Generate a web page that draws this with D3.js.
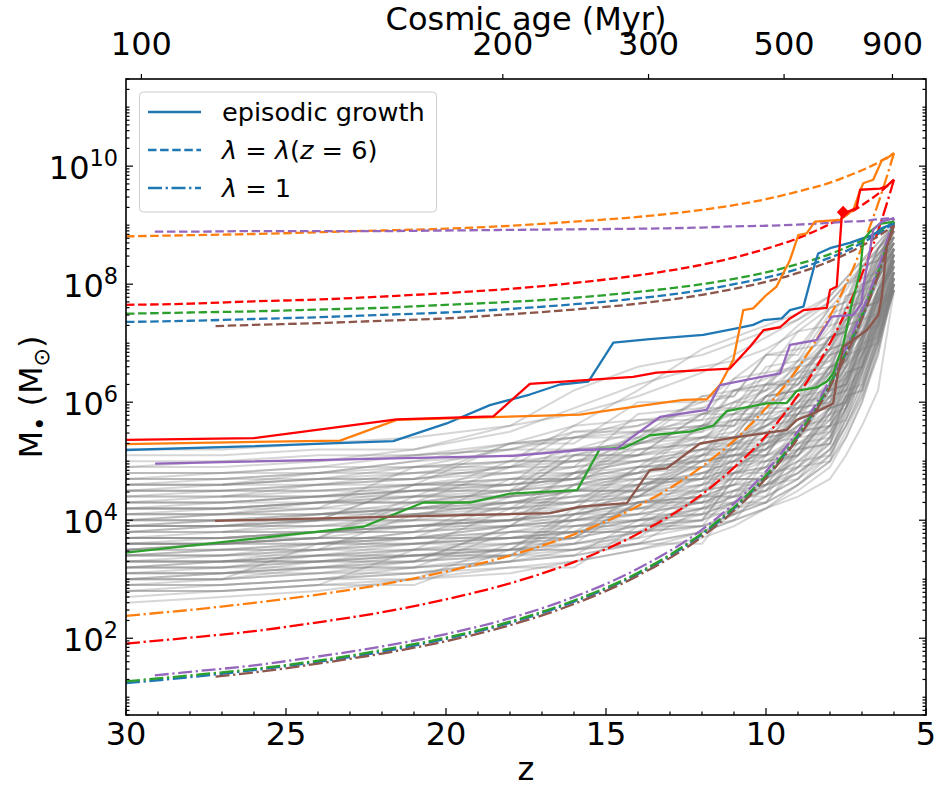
<!DOCTYPE html>
<html><head><meta charset="utf-8">
<script src="https://cdn.jsdelivr.net/npm/d3@7"></script>
<style>body{margin:0;background:#fff} text{font-family:"DejaVu Sans",sans-serif;fill:#000}</style>
</head><body><svg id="c" width="936" height="787"></svg>
<script>
// ---------------- DATA (log10 of M in Msun) ----------------
const zTicks = [30,25,20,15,10,5];
const ageTicks = [100,200,300,500,900];          // Myr, top axis
const yTickExps = [2,4,6,8,10];

const zGrid = [30,27,24,21,18,16,14,12,11,10,9,8,7.5,7,6.5,6];
const grayLines = [
[5.2,5.2,5.3,5.4,5.6,5.8,6.1,6.5,6.8,7.1,7.4,7.8,8.1,8.4,8.7,9.0],
[5.1,5.1,5.2,5.2,5.5,5.9,6.3,6.6,6.7,6.9,7.2,7.6,7.9,8.3,8.6,8.9],
[4.9,5.0,5.0,5.1,5.3,5.4,5.6,6.0,6.4,6.8,7.3,7.7,8.0,8.2,8.5,8.8],
[4.8,4.8,4.9,5.1,5.2,5.4,5.7,5.8,6.0,6.3,6.7,7.2,7.6,8.0,8.4,8.9],
[4.7,4.8,4.8,4.9,5.2,5.5,5.6,5.9,6.2,6.4,6.6,7.0,7.4,7.9,8.3,8.7],
[4.6,4.6,4.7,4.9,5.0,5.1,5.4,5.8,6.0,6.2,6.6,7.1,7.3,7.7,8.2,8.6],
[4.5,4.6,4.8,5.0,5.1,5.2,5.3,5.5,5.7,6.1,6.5,6.9,7.4,7.8,8.4,9.0],
[4.5,4.5,4.6,4.7,4.9,5.2,5.5,5.7,5.8,6.0,6.3,6.8,7.1,7.5,8.0,8.5],
[4.4,4.5,4.5,4.6,4.8,5.0,5.3,5.6,5.9,6.2,6.4,6.7,7.0,7.3,7.8,8.3],
[4.3,4.4,4.6,4.8,5.0,5.0,5.2,5.4,5.6,5.9,6.3,6.9,7.3,7.7,8.1,8.7],
[4.3,4.3,4.4,4.5,4.7,4.9,5.1,5.4,5.7,5.8,6.1,6.5,6.9,7.4,7.9,8.4],
[4.2,4.3,4.4,4.6,4.7,4.8,5.0,5.2,5.5,5.9,6.2,6.6,6.8,7.2,7.7,8.2],
[4.2,4.2,4.3,4.4,4.6,4.8,5.1,5.3,5.4,5.6,6.0,6.5,7.0,7.6,8.2,8.8],
[4.1,4.2,4.3,4.3,4.5,4.7,4.9,5.2,5.3,5.6,5.9,6.2,6.6,7.0,7.6,8.1],
[4.1,4.1,4.2,4.4,4.5,4.6,4.8,5.1,5.4,5.7,6.0,6.4,6.7,7.3,7.9,8.6],
[4.0,4.1,4.3,4.5,4.6,4.7,4.9,5.0,5.2,5.4,5.8,6.3,6.8,7.2,7.8,8.3],
[4.0,4.0,4.1,4.2,4.4,4.6,4.8,5.0,5.1,5.3,5.7,6.1,6.5,7.0,7.7,8.4],
[3.9,4.0,4.0,4.2,4.4,4.5,4.7,4.9,5.2,5.5,5.8,6.2,6.6,6.9,7.5,8.0],
[3.9,3.9,4.1,4.3,4.5,4.8,5.0,5.2,5.4,5.6,5.9,6.3,6.7,7.1,7.8,8.5],
[3.8,3.9,4.0,4.1,4.3,4.5,4.6,4.8,5.0,5.3,5.6,6.0,6.4,6.9,7.5,8.2],
[3.8,3.8,3.9,4.1,4.2,4.4,4.6,4.9,5.1,5.2,5.5,5.9,6.3,6.8,7.4,8.0],
[3.7,3.8,4.0,4.1,4.3,4.4,4.5,4.7,4.9,5.2,5.6,6.1,6.6,7.1,7.7,8.4],
[3.7,3.7,3.8,4.0,4.2,4.3,4.5,4.8,5.0,5.3,5.5,5.8,6.2,6.6,7.3,8.1],
[3.6,3.7,3.8,3.9,4.1,4.3,4.6,4.8,4.9,5.1,5.4,5.8,6.3,6.9,7.6,8.6],
[3.6,3.6,3.7,3.9,4.0,4.2,4.4,4.6,4.8,5.0,5.4,5.9,6.4,6.8,7.3,7.9],
[3.5,3.6,3.8,3.9,4.0,4.1,4.3,4.5,4.8,5.1,5.3,5.7,6.1,6.7,7.5,8.3],
[3.5,3.5,3.6,3.8,4.0,4.2,4.4,4.7,4.9,5.0,5.3,5.6,6.0,6.5,7.2,8.0],
[3.4,3.5,3.6,3.7,3.9,4.1,4.3,4.4,4.6,4.9,5.2,5.7,6.2,6.8,7.4,8.2],
[3.4,3.4,3.5,3.7,3.9,4.0,4.2,4.5,4.7,4.9,5.1,5.5,5.9,6.4,7.1,7.9],
[3.3,3.4,3.6,3.8,3.9,4.0,4.1,4.3,4.5,4.8,5.2,5.6,6.0,6.6,7.3,8.4],
[3.3,3.3,3.4,3.6,3.8,4.0,4.2,4.4,4.6,4.7,5.0,5.4,5.9,6.5,7.2,8.1],
[3.2,3.3,3.5,3.6,3.7,3.9,4.1,4.3,4.5,4.7,5.0,5.5,6.0,6.7,7.5,8.5],
[3.2,3.2,3.3,3.5,3.7,3.8,4.0,4.2,4.4,4.7,5.1,5.6,6.1,6.6,7.2,8.0],
[3.1,3.2,3.4,3.5,3.6,3.8,4.0,4.1,4.3,4.6,4.9,5.3,5.8,6.4,7.1,7.9],
[3.1,3.1,3.2,3.4,3.6,3.7,3.9,4.2,4.4,4.6,4.8,5.2,5.7,6.3,7.0,8.2],
[3.0,3.1,3.3,3.4,3.5,3.7,3.9,4.0,4.2,4.4,4.7,5.1,5.6,6.2,7.0,8.0],
[3.0,3.0,3.1,3.3,3.5,3.6,3.8,4.0,4.3,4.5,4.8,5.3,5.9,6.6,7.4,8.3],
[2.9,3.0,3.2,3.3,3.4,3.6,3.8,3.9,4.1,4.3,4.6,5.0,5.5,6.1,6.9,7.9],
[2.9,2.9,3.0,3.2,3.4,3.5,3.7,3.9,4.1,4.4,4.7,5.2,5.7,6.3,7.2,8.1],
[2.8,2.9,3.0,3.1,3.3,3.4,3.6,3.8,4.0,4.2,4.5,4.9,5.4,6.0,6.8,8.0],
[2.7,2.8,2.9,3.0,3.2,3.3,3.5,3.7,3.9,4.2,4.6,5.1,5.6,6.2,7.1,8.2],
[2.6,2.7,2.8,3.0,3.1,3.3,3.5,3.8,4.1,4.3,4.6,5.0,5.4,6.0,6.9,8.0],
[3.3,3.3,3.3,3.4,3.4,4.1,4.2,4.2,4.8,4.9,5.6,5.7,6.5,6.6,7.8,8.6],
[3.9,3.9,4.0,4.0,4.7,4.7,4.8,5.6,5.7,5.7,6.4,6.5,7.3,7.4,8.2,8.9],
[4.4,4.4,4.5,4.5,4.6,5.4,5.5,5.5,6.2,6.3,6.3,7.1,7.2,8.0,8.1,8.6],
[3.0,3.0,3.6,3.6,3.7,3.7,4.5,4.5,4.6,5.3,5.4,6.1,6.2,7.0,7.9,8.3],
[3.6,3.6,3.7,4.4,4.4,4.5,4.5,5.1,5.2,5.8,5.9,6.0,6.9,7.6,7.7,8.5],
[4.7,4.7,4.7,4.8,4.8,4.9,5.8,5.9,5.9,6.6,6.7,7.5,7.6,8.3,8.4,9.0],
[3.4,3.5,3.5,3.5,4.2,4.2,4.3,4.3,5.0,5.0,5.1,5.9,6.0,6.8,7.5,8.2],
[4.0,4.0,4.1,4.1,4.1,4.8,4.8,4.9,4.9,5.7,5.8,6.6,6.7,7.5,8.3,8.7],
[2.8,2.8,2.9,3.5,3.5,3.6,4.3,4.3,4.4,4.4,5.2,5.3,6.1,6.9,7.0,7.9],
[5.0,5.0,5.1,5.1,5.2,5.2,5.3,6.1,6.2,6.2,7.0,7.1,7.8,7.9,8.6,8.9],
[3.7,3.7,3.8,3.8,3.9,4.6,4.6,4.7,5.4,5.5,5.5,6.3,6.4,7.2,7.3,8.1],
[4.2,4.2,4.2,4.9,4.9,5.0,5.0,5.1,5.8,5.8,6.5,6.6,7.4,7.5,8.2,8.8],
[3.2,3.2,3.2,3.3,3.9,3.9,4.0,4.6,4.7,4.7,5.4,6.2,6.3,7.0,7.8,8.4],
[4.5,4.5,4.6,4.6,5.3,5.3,6.0,6.0,6.1,6.8,6.8,7.6,7.7,8.3,8.4,8.8],
[null,3.8,3.8,3.9,4.0,4.1,4.3,4.6,4.9,5.2,5.6,6.0,6.5,7.1,7.7,8.4],
[null,null,3.0,3.1,3.3,3.5,3.8,4.1,4.3,4.6,4.9,5.4,5.9,6.6,7.4,8.2],
[null,4.6,4.7,4.7,4.9,5.1,5.3,5.6,5.8,6.1,6.5,7.0,7.5,7.9,8.3,8.7],
[null,null,4.1,4.2,4.3,4.5,4.8,5.1,5.3,5.6,6.0,6.6,7.1,7.6,8.1,8.6],
[3.1,3.1,3.2,3.2,3.3,3.4,3.6,3.8,4.0,4.2,4.4,4.7,5.1,5.6,6.2,7.9],
[3.5,3.6,3.6,3.7,3.8,3.9,4.0,4.2,4.3,4.5,4.8,5.2,5.6,6.1,6.8,8.1],
[4.9,4.9,5.0,5.2,5.6,6.2,6.6,6.8,7.0,7.2,7.4,7.7,8.0,8.3,8.6,9.0],
[4.6,4.7,4.8,5.0,5.3,5.6,6.2,6.9,7.1,7.3,7.5,7.8,8.1,8.4,8.7,9.0],
[3.8,3.8,3.8,3.9,3.9,4.5,4.5,4.6,5.3,5.3,6.0,6.8,6.9,7.6,7.7,8.5],
[4.3,4.3,4.4,4.4,5.0,5.0,5.1,5.8,5.8,6.5,6.6,7.3,7.4,8.1,8.2,8.8],
[3.4,3.4,3.5,4.1,4.1,4.2,4.9,4.9,5.0,5.6,5.7,6.4,7.1,7.2,7.9,8.4],
[4.1,4.1,4.1,4.2,4.2,4.3,4.9,5.0,5.0,5.1,5.9,6.0,6.8,7.6,7.7,8.5],
[3.6,3.6,3.7,3.7,3.8,3.8,4.4,4.5,5.2,5.2,5.9,6.6,6.7,7.4,8.2,8.7],
[4.8,4.8,4.9,4.9,5.0,5.6,5.7,5.7,6.4,6.5,7.2,7.3,8.0,8.1,8.6,9.0],
[3.0,3.1,3.1,3.2,3.8,3.8,3.9,4.5,4.6,4.6,5.3,5.4,6.2,6.3,7.1,8.0],
[3.9,4.0,4.0,4.6,4.7,4.7,5.4,5.4,5.5,6.1,6.2,6.9,7.6,7.7,8.3,8.9],
[2.9,2.9,3.0,3.0,3.6,3.6,3.7,4.4,4.4,4.5,5.1,5.8,5.9,6.7,7.4,8.1],
[4.4,4.4,4.4,4.5,4.5,5.2,5.2,5.3,6.0,6.0,6.7,6.8,7.6,7.7,8.4,8.7],
[3.3,3.3,3.4,3.4,3.5,4.2,4.2,4.3,4.3,5.0,5.1,5.8,6.5,6.6,7.3,8.3],
[4.6,4.6,4.7,4.7,4.8,4.8,5.5,5.6,5.6,6.3,6.3,7.1,7.2,7.9,8.6,8.9],
[3.7,3.7,3.8,3.8,4.4,4.5,4.5,5.2,5.2,5.3,6.0,6.1,6.8,6.9,7.6,8.3],
[3.5,3.5,3.5,3.6,3.6,3.7,4.3,4.4,4.4,5.1,5.2,5.9,6.0,6.8,7.6,8.4],
[4.2,4.2,4.3,4.3,4.4,5.1,5.1,5.8,5.9,5.9,6.6,6.7,7.5,7.5,8.3,8.8],
[3.2,3.2,3.3,3.3,3.4,3.4,4.0,4.1,4.1,4.8,4.9,5.6,5.7,6.5,7.3,8.2],
[4.0,4.0,4.0,4.6,4.6,4.7,4.7,5.4,5.4,6.1,6.2,6.9,7.0,7.8,8.5,8.9],
[3.8,3.9,3.9,3.9,4.0,4.0,4.6,4.7,4.7,5.4,5.5,6.2,6.3,7.1,7.9,8.6],
[3.1,3.1,3.2,3.2,3.3,3.9,3.9,4.0,4.7,4.7,5.4,5.5,6.3,7.0,7.1,8.0],
[4.5,4.5,4.5,4.6,4.6,4.7,5.3,5.4,5.4,6.1,6.2,6.9,7.0,7.8,8.5,8.8],
[3.6,3.6,3.7,3.7,4.3,4.3,4.4,5.0,5.1,5.1,5.8,6.5,6.6,7.4,8.1,8.6],
[4.1,4.1,4.2,4.2,4.3,4.3,4.4,5.0,5.1,5.7,5.8,6.5,7.3,7.4,8.1,8.7],
[3.4,3.4,3.4,3.5,3.5,4.1,4.1,4.8,4.8,4.9,5.5,6.2,6.3,7.0,7.8,8.5],
[3.9,3.9,4.0,4.0,4.0,4.6,4.7,4.7,5.3,5.4,6.1,6.2,7.0,7.1,7.9,8.3],
[2.8,2.8,2.9,2.9,3.5,3.5,3.6,3.6,4.3,4.3,5.0,5.1,5.9,6.6,7.4,8.2],
[4.7,4.7,4.8,4.8,4.9,5.5,5.5,5.6,6.2,6.3,6.9,7.0,7.8,7.9,8.6,9.0],
[3.5,3.6,3.6,3.7,3.7,3.8,3.8,4.4,4.5,4.5,5.2,5.9,6.0,6.8,7.5,8.0],
[4.3,4.3,4.3,4.4,4.4,5.1,5.1,5.2,5.2,5.9,5.9,6.6,6.7,7.5,8.2,8.6],
[3.7,3.7,3.7,4.3,4.3,4.4,4.4,5.1,5.1,5.2,5.8,5.9,6.6,7.4,7.5,8.4],
[3.2,3.3,3.3,3.3,3.9,4.0,4.0,4.0,4.7,4.7,5.4,6.1,6.2,7.0,7.7,8.5],
[null,3.3,3.3,3.4,3.4,4.0,4.1,4.1,4.8,4.8,5.5,5.6,6.4,7.1,7.9,8.4],
[null,4.4,4.4,4.5,4.5,4.6,5.2,5.3,5.3,6.0,6.1,6.8,6.9,7.7,8.4,8.9],
[null,null,3.6,3.6,3.7,3.7,4.3,4.4,5.1,5.1,5.8,5.9,6.7,7.4,8.1,8.6],
[4.0,4.1,4.1,4.2,4.2,4.8,4.9,5.6,5.6,6.3,6.4,7.1,7.2,8.0,8.1,8.7],
[3.3,3.3,3.4,3.4,3.5,3.5,3.6,4.2,4.2,4.3,4.9,5.0,5.8,6.5,7.3,8.0],
[4.6,4.6,4.6,4.7,5.3,5.4,5.4,6.1,6.1,6.8,6.9,7.6,7.7,8.4,8.5,8.9],
[3.6,3.6,3.7,3.7,3.7,3.8,3.8,3.9,4.5,4.6,5.2,5.3,6.1,6.2,7.0,7.9],
[4.2,4.2,4.3,4.3,4.9,4.9,5.0,5.0,5.7,5.7,6.4,7.1,7.2,7.9,8.0,8.6],
[3.9,3.9,3.9,4.0,4.0,4.1,4.7,4.7,4.8,5.4,5.5,5.6,6.4,7.1,7.9,8.5],
[3.0,3.0,3.1,3.1,3.2,3.2,3.9,3.9,4.0,4.6,4.7,5.4,6.1,6.2,7.0,8.1]
];

// episodic growth (solid) : [z, log10 M]
const blueSolid = [[30,5.19],[26.23,5.25],[21.65,5.34],[19.98,5.64],[18.63,5.95],[17.38,6.13],[16.44,6.30],[15.55,6.35],[14.77,7.01],[13.63,7.07],[11.96,7.14],[10.92,7.25],[10.40,7.31],[10.08,7.39],[9.51,7.42],[9.25,7.56],[8.83,7.62],[8.47,8.35],[8.37,8.52],[8.0,8.61],[7.38,8.70],[6.96,8.78],[6.65,8.83],[6.38,8.95],[6,9.03]];
const orangeSolid = [[30,5.29],[23.31,5.35],[21.54,5.70],[15.81,5.79],[14.15,5.92],[12.58,6.04],[11.85,6.05],[11.44,6.29],[11.02,6.72],[10.71,7.56],[10.40,7.59],[9.98,7.82],[9.67,7.96],[9.25,8.41],[8.99,8.83],[8.73,8.86],[8.47,9.06],[7.69,9.09],[7.27,9.26],[7.06,9.58],[6.96,9.71],[6.65,9.77],[6.38,10.10],[6.23,10.13],[6,10.22]];
const greenSolid = [[30,3.45],[22.58,3.89],[20.71,4.30],[19.25,4.30],[18.0,4.45],[15.9,4.51],[15.19,5.21],[14.46,5.22],[13.63,5.44],[12.38,5.50],[11.65,5.60],[11.23,5.85],[9.98,5.98],[9.35,5.99],[9.04,6.19],[8.42,6.25],[8.10,6.35],[7.90,6.49],[7.58,6.99],[7.32,7.67],[7.06,8.20],[6.96,8.75],[6.75,8.89],[6.44,9.02],[6,9.06]];
const redSolid = [[30,5.36],[26.02,5.39],[21.54,5.71],[18.52,5.76],[17.38,6.31],[14.15,6.43],[13.42,6.50],[11.13,6.57],[10.5,6.94],[10.08,7.22],[9.56,7.27],[9.25,7.42],[8.83,7.56],[8.10,7.60],[8.0,7.90],[7.79,7.96],[7.63,9.17],[7.43,9.23],[7.17,9.29],[7.06,9.60],[6.44,9.62],[6.23,9.66],[6,9.77]];
const purpleSolid = [[29.09,4.96],[17.9,5.09],[15.81,5.19],[14.67,5.21],[14.15,5.42],[13.31,5.75],[11.85,5.87],[11.44,6.29],[9.56,6.49],[9.25,6.97],[8.42,7.05],[7.95,7.45],[7.27,7.48],[7.01,7.67],[6.96,7.96],[6.75,8.58],[6.65,8.92],[6.38,9.06],[6,9.12]];
const brownSolid = [[27.22,3.99],[16.75,4.12],[15.81,4.23],[14.35,4.29],[13.63,4.85],[13.10,4.88],[12.06,5.30],[11.13,5.39],[10.08,5.47],[9.35,5.53],[9.04,5.70],[8.52,5.81],[7.90,5.98],[7.79,6.38],[7.58,6.94],[6.85,7.22],[6.49,7.48],[6.38,7.79],[6.23,8.63],[6,9.00]];

// lambda = lambda(z=6) (dashed)
const blueDashed = [[30,7.36],[28,7.38],[26,7.41],[24,7.44],[22,7.48],[20,7.52],[18,7.58],[16,7.66],[14,7.76],[12,7.90],[11,8.00],[10,8.11],[9,8.26],[8,8.45],[7.5,8.56],[7,8.70],[6.5,8.85],[6,9.04]];
const orangeDashed = [[30,8.81],[28,8.83],[26,8.85],[24,8.88],[22,8.91],[20,8.94],[18,8.99],[16,9.06],[14,9.14],[12,9.26],[11,9.34],[10,9.44],[9,9.57],[8,9.72],[7.5,9.82],[7,9.93],[6.5,10.06],[6,10.22]];
const greenDashed = [[30,7.50],[28,7.52],[26,7.54],[24,7.57],[22,7.60],[20,7.65],[18,7.70],[16,7.77],[14,7.87],[12,8.00],[11,8.09],[10,8.20],[9,8.34],[8,8.51],[7.5,8.62],[7,8.74],[6.5,8.89],[6,9.06]];
const redDashed = [[30,7.65],[28,7.67],[26,7.71],[24,7.74],[22,7.79],[20,7.85],[18,7.92],[16,8.02],[14,8.15],[12,8.33],[11,8.45],[10,8.60],[9,8.78],[8,9.02],[7.5,9.17],[7,9.34],[6.5,9.53],[6,9.77]];
const purpleDashed = [[29.1,8.89],[28,8.89],[26,8.90],[24,8.90],[22,8.90],[20,8.91],[18,8.92],[16,8.93],[14,8.94],[12,8.96],[11,8.98],[10,8.99],[9,9.01],[8,9.04],[7.5,9.06],[7,9.07],[6.5,9.10],[6,9.12]];
const brownDashed = [[27.2,7.29],[26,7.31],[24,7.34],[22,7.38],[20,7.42],[18,7.49],[16,7.57],[14,7.67],[12,7.82],[11,7.92],[10,8.04],[9,8.19],[8,8.39],[7.5,8.51],[7,8.65],[6.5,8.81],[6,9.00]];

// lambda = 1 (dash-dot)
const blueDashDot = [[30,1.24],[28,1.34],[26,1.46],[24,1.60],[22,1.77],[20,1.99],[18,2.26],[16,2.62],[14,3.09],[12,3.76],[11,4.20],[10,4.74],[9,5.42],[8,6.30],[7.5,6.83],[7,7.45],[6.5,8.18],[6,9.04]];
const orangeDashDot = [[30,2.38],[28,2.48],[26,2.60],[24,2.74],[22,2.91],[20,3.13],[18,3.40],[16,3.76],[14,4.24],[12,4.91],[11,5.35],[10,5.90],[9,6.58],[8,7.46],[7.5,8.00],[7,8.63],[6.5,9.36],[6,10.22]];
const greenDashDot = [[30,1.27],[28,1.37],[26,1.48],[24,1.62],[22,1.80],[20,2.01],[18,2.28],[16,2.64],[14,3.11],[12,3.78],[11,4.22],[10,4.76],[9,5.45],[8,6.32],[7.5,6.86],[7,7.48],[6.5,8.20],[6,9.06]];
const redDashDot = [[30,1.91],[28,2.01],[26,2.12],[24,2.27],[22,2.44],[20,2.66],[18,2.93],[16,3.29],[14,3.77],[12,4.44],[11,4.89],[10,5.43],[9,6.12],[8,7.00],[7.5,7.54],[7,8.17],[6.5,8.90],[6,9.77]];
const purpleDashDot = [[29.1,1.37],[28,1.43],[26,1.54],[24,1.69],[22,1.86],[20,2.07],[18,2.34],[16,2.70],[14,3.18],[12,3.84],[11,4.28],[10,4.83],[9,5.51],[8,6.38],[7.5,6.92],[7,7.54],[6.5,8.26],[6,9.12]];
const brownDashDot = [[27.2,1.35],[26,1.42],[24,1.57],[22,1.74],[20,1.95],[18,2.22],[16,2.58],[14,3.06],[12,3.72],[11,4.16],[10,4.71],[9,5.39],[8,6.26],[7.5,6.80],[7,7.42],[6.5,8.14],[6,9.00]];

const diamondPoint = [7.59, 9.22];

const seriesColors = ["#1f77b4","#ff7f0e","#2ca02c","#ff0000","#9467bd","#8c564b"];
const solidSets = [blueSolid,orangeSolid,greenSolid,redSolid,purpleSolid,brownSolid];
const dashedSets = [blueDashed,orangeDashed,greenDashed,redDashed,purpleDashed,brownDashed];
const dashDotSets = [blueDashDot,orangeDashDot,greenDashDot,redDashDot,purpleDashDot,brownDashDot];

// ---------------- DRAWING ----------------
const W=936,H=787,L=126,R=926,T=79,B=715;
const FS=32;
const x = d3.scaleLinear().domain([30,5]).range([L,R]);
const y = d3.scaleLog().domain([5,3e11]).range([B,T]);
const svg = d3.select("#c");
svg.append("rect").attr("width",W).attr("height",H).attr("fill","#fff");
svg.append("defs").append("clipPath").attr("id","clip")
  .append("rect").attr("x",L).attr("y",T).attr("width",R-L).attr("height",B-T);
const g = svg.append("g").attr("clip-path","url(#clip)");

const lin = d3.line().defined(d=>d[1]!=null).x(d=>x(d[0])).y(d=>y(Math.pow(10,d[1])));
const smooth = d3.line().curve(d3.curveMonotoneX).x(d=>x(d[0])).y(d=>y(Math.pow(10,d[1])));

grayLines.forEach(vals=>{
  g.append("path").datum(zGrid.map((z,i)=>[z,vals[i]])).attr("d",lin)
   .attr("fill","none").attr("stroke","#808080").attr("stroke-opacity",0.32).attr("stroke-width",2);
});

const DASH="8.5,3.6", DASHDOT="14,3.6,2.3,3.6";
seriesColors.forEach((c,i)=>{
  g.append("path").datum(dashDotSets[i]).attr("d",smooth).attr("fill","none")
   .attr("stroke",c).attr("stroke-width",2.3).attr("stroke-dasharray",DASHDOT);
});
seriesColors.forEach((c,i)=>{
  g.append("path").datum(dashedSets[i]).attr("d",smooth).attr("fill","none")
   .attr("stroke",c).attr("stroke-width",2.3).attr("stroke-dasharray",DASH);
});
seriesColors.forEach((c,i)=>{
  g.append("path").datum(solidSets[i]).attr("d",lin).attr("fill","none")
   .attr("stroke",c).attr("stroke-width",2.3).attr("stroke-linejoin","round");
});
g.append("path").attr("d",d3.symbol(d3.symbolSquare,80)())
  .attr("transform",`translate(${x(diamondPoint[0])},${y(Math.pow(10,diamondPoint[1]))}) rotate(45)`)
  .attr("fill","#ff0000");

// ---- axes ----
const ax = svg.append("g").attr("stroke","#000");
function tick(x1,y1,x2,y2){ax.append("line").attr("x1",x1).attr("y1",y1).attr("x2",x2).attr("y2",y2).attr("stroke-width",1.2);}
// bottom
d3.range(5,31,1).forEach(z=>{const len=(z%5===0)?7:3.5; tick(x(z),B,x(z),B-len);});
zTicks.forEach(z=>svg.append("text").attr("x",x(z)).attr("y",745).attr("text-anchor","middle").attr("font-size",FS).text(z));
// top (cosmic age)
const A=11300, Bc=1.492;
const zOfAge = t => Math.pow(Math.sinh(t/A)/Bc,-2/3)-1;
ageTicks.forEach(t=>{const xx=x(zOfAge(t)); tick(xx,T,xx,T-5);
  svg.append("text").attr("x",xx).attr("y",55).attr("text-anchor","middle").attr("font-size",FS).text(t);});
// left/right log ticks
for(let k=0;k<=11;k++){
  for(let m=1;m<=9;m++){
    const v=m*Math.pow(10,k); if(v<5||v>3e11) continue;
    const major=(m===1 && k%2===0);
    const len=major?7:3.5; const yy=y(v);
    tick(L,yy,L+len,yy); tick(R,yy,R-len,yy);
  }
}
yTickExps.forEach(e=>{
  const yy=y(Math.pow(10,e));
  const t=svg.append("text").attr("x",118).attr("y",yy+13).attr("text-anchor","end").attr("font-size",FS);
  t.append("tspan").text("10");
  t.append("tspan").attr("font-size",22.4).attr("dy",-13).text(e);
});
// frame
svg.append("rect").attr("x",L).attr("y",T).attr("width",R-L).attr("height",B-T)
  .attr("fill","none").attr("stroke","#000").attr("stroke-width",1.6);

// labels
svg.append("text").attr("x",(L+R)/2).attr("y",30).attr("text-anchor","middle").attr("font-size",FS).text("Cosmic age (Myr)");
svg.append("text").attr("x",(L+R)/2).attr("y",780).attr("text-anchor","middle").attr("font-size",FS).text("z");
const yl=svg.append("text").attr("transform",`translate(42,${(T+B)/2}) rotate(-90)`).attr("text-anchor","middle").attr("font-size",FS);
yl.append("tspan").text("M");
yl.append("tspan").attr("font-size",24).attr("dy",7).text("\u2022");
yl.append("tspan").attr("dy",-7).text(" (M");
yl.append("tspan").attr("font-size",22).attr("dy",7).text("\u2299");
yl.append("tspan").attr("dy",-7).text(")");

// legend
const lg=svg.append("g");
lg.append("rect").attr("x",139.5).attr("y",92).attr("width",297).attr("height",120).attr("rx",4)
  .attr("fill","#fff").attr("fill-opacity",0.8).attr("stroke","#cccccc").attr("stroke-width",1);
const legendItems=[{dash:null,y:112},{dash:DASH,y:150},{dash:DASHDOT,y:188}];
legendItems.forEach(it=>{
  const l=lg.append("line").attr("x1",148).attr("x2",201).attr("y1",it.y).attr("y2",it.y)
   .attr("stroke","#1f77b4").attr("stroke-width",2.3);
  if(it.dash) l.attr("stroke-dasharray",it.dash);
});
const LF=25.6;
lg.append("text").attr("x",222).attr("y",121).attr("font-size",LF).text("episodic growth");
const t2=lg.append("text").attr("x",222).attr("y",159).attr("font-size",LF);
t2.append("tspan").attr("font-style","italic").text("λ");
t2.append("tspan").text(" = ");
t2.append("tspan").attr("font-style","italic").text("λ");
t2.append("tspan").text("(");
t2.append("tspan").attr("font-style","italic").text("z");
t2.append("tspan").text(" = 6)");
const t3=lg.append("text").attr("x",222).attr("y",197).attr("font-size",LF);
t3.append("tspan").attr("font-style","italic").text("λ");
t3.append("tspan").text(" = 1");
</script></body></html>
